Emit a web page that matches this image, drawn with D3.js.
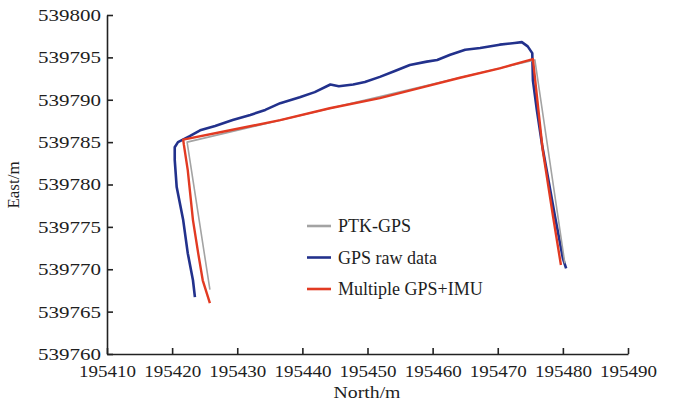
<!DOCTYPE html>
<html>
<head>
<meta charset="utf-8">
<script src="https://cdn.jsdelivr.net/npm/d3@7"></script>
<style>
  body { margin: 0; background: #fff; }
  text { font-family: "Liberation Serif", "Times New Roman", serif; fill: #1e1e1e; }
</style>
</head>
<body>
<div id="viz"></div>
<script>
// tick values
let xTicks = [195410, 195420, 195430, 195440, 195450, 195460, 195470, 195480, 195490];
let yTicks = [539760, 539765, 539770, 539775, 539780, 539785, 539790, 539795, 539800];

// PTK-GPS reference track
let ptkNorth = [195425.8, 195422.3, 195475.7, 195480.3];
let ptkEast  = [539767.6, 539785.0, 539794.7, 539770.7];

// GPS raw data
let rawNorth = [195423.5, 195423.2, 195422.4, 195421.7, 195420.7, 195420.4, 195420.4, 195420.9,
                195422.7, 195424.3, 195426.6, 195429.3, 195432.0, 195434.3, 195436.6, 195439.6,
                195441.9, 195444.3, 195445.6, 195447.8, 195449.6, 195451.9, 195454.2, 195456.5,
                195459.1, 195460.7, 195462.7, 195465.0, 195467.3, 195470.3, 195472.6, 195473.7,
                195474.6, 195475.3, 195475.4, 195476.0, 195476.8, 195477.7, 195478.8, 195480.0, 195480.5];
let rawEast  = [539766.7, 539768.7, 539771.9, 539775.8, 539779.7, 539782.9, 539784.4, 539785.0,
                539785.7, 539786.4, 539786.9, 539787.6, 539788.2, 539788.8, 539789.6, 539790.3,
                539790.9, 539791.8, 539791.6, 539791.8, 539792.1, 539792.7, 539793.4, 539794.1,
                539794.5, 539794.7, 539795.3, 539795.9, 539796.1, 539796.5, 539796.7, 539796.8,
                539796.3, 539795.5, 539792.3, 539788.8, 539784.7, 539780.9, 539776.2, 539771.3, 539770.1];

// Multiple GPS+IMU
let fusedNorth = [195425.8, 195424.7, 195424.0, 195423.2, 195422.4, 195421.8, 195421.7, 195428.9,
                  195436.6, 195444.2, 195451.9, 195458.1, 195464.2, 195470.3, 195475.4, 195476.9,
                  195478.5, 195479.7];
let fusedEast  = [539766.0, 539768.7, 539771.9, 539775.8, 539781.7, 539784.7, 539785.3, 539786.4,
                  539787.6, 539789.0, 539790.2, 539791.4, 539792.6, 539793.7, 539794.8, 539784.1,
                  539776.2, 539770.5];

let seriesNames = ['PTK-GPS', 'GPS raw data', 'Multiple GPS+IMU'];

let width = 673, height = 410;
let mLeft = 107, mRight = 628, mTop = 15, mBottom = 354;

let xScale = d3.scaleLinear().domain([195410, 195490]).range([mLeft, mRight]);
let yScale = d3.scaleLinear().domain([539760, 539800]).range([mBottom, mTop]);

let svg = d3.select('#viz').append('svg')
    .attr('width', width)
    .attr('height', height);

let gx = svg.append('g')
    .attr('transform', 'translate(0,' + mBottom + ')')
    .call(d3.axisBottom(xScale).tickValues(xTicks).tickFormat(d3.format('d'))
          .tickSizeInner(-6).tickSizeOuter(0).tickPadding(11));
let gy = svg.append('g')
    .attr('transform', 'translate(' + mLeft + ',0)')
    .call(d3.axisLeft(yScale).tickValues(yTicks).tickFormat(d3.format('d'))
          .tickSizeInner(-6).tickSizeOuter(0).tickPadding(6));

svg.selectAll('.domain, .tick line').attr('stroke', '#222').attr('stroke-width', 1.6);
svg.selectAll('.tick text')
    .attr('font-size', 17)
    .attr('font-family', '"Liberation Serif", serif')
    .attr('fill', '#1e1e1e')
    .attr('lengthAdjust', 'spacingAndGlyphs');
gx.selectAll('.tick text').attr('textLength', 57);
gy.selectAll('.tick text').attr('textLength', 63);

svg.append('text')
    .attr('x', 367).attr('y', 398)
    .attr('text-anchor', 'middle')
    .attr('font-size', 17)
    .attr('textLength', 67).attr('lengthAdjust', 'spacingAndGlyphs')
    .text('North/m');

svg.append('text')
    .attr('transform', 'translate(19,185) rotate(-90)')
    .attr('text-anchor', 'middle')
    .attr('font-size', 17)
    .text('East/m');

let line = d3.line()
    .x(function(d){ return xScale(d[0]); })
    .y(function(d){ return yScale(d[1]); })
    .curve(d3.curveLinear);

let series = [
  {name: seriesNames[0], pts: d3.zip(ptkNorth, ptkEast), color: '#a3a3a3', w: 1.6},
  {name: seriesNames[1], pts: d3.zip(rawNorth, rawEast), color: '#22318c', w: 2.6},
  {name: seriesNames[2], pts: d3.zip(fusedNorth, fusedEast), color: '#e23a22', w: 2.4}
];

// draw order: blue, gray, red on top
[series[1], series[0], series[2]].forEach(function(s){
  svg.append('path')
    .datum(s.pts)
    .attr('fill', 'none')
    .attr('stroke', s.color)
    .attr('stroke-width', s.w)
    .attr('stroke-linejoin', 'round')
    .attr('d', line);
});

// legend
let legend = svg.append('g');
series.forEach(function(s, i){
  let yy = 226 + i * 31.5;
  legend.append('line')
    .attr('x1', 307).attr('x2', 331)
    .attr('y1', yy).attr('y2', yy)
    .attr('stroke', s.color).attr('stroke-width', 2.6);
  legend.append('text')
    .attr('x', 338).attr('y', yy + 6)
    .attr('font-size', 18)
    .text(s.name);
});
</script>
</body>
</html>
